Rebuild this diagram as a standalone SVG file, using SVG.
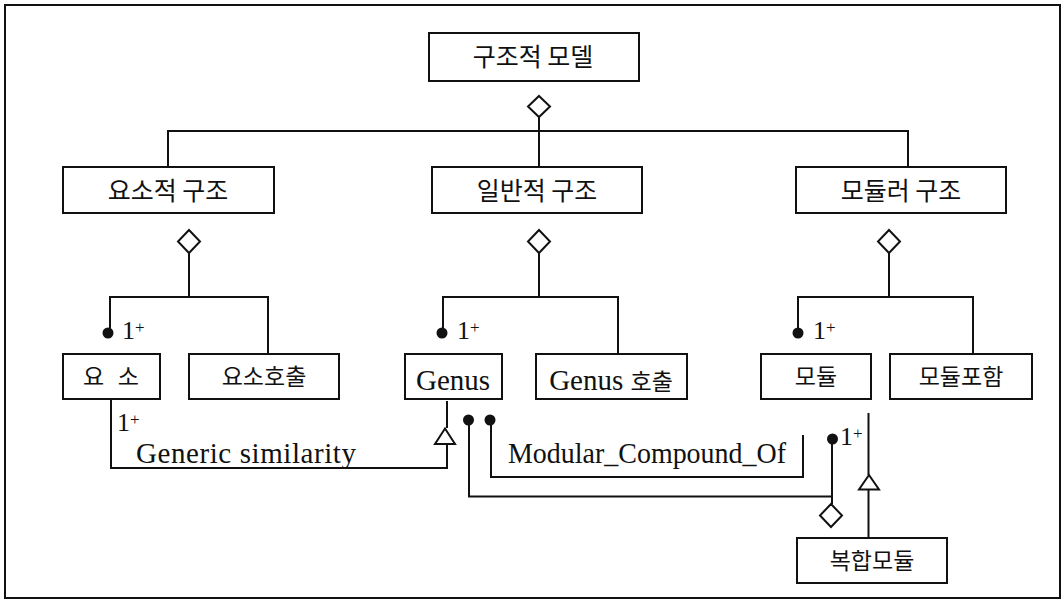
<svg xmlns="http://www.w3.org/2000/svg" width="1062" height="599" viewBox="0 0 1062 599">
<style>
.box{fill:#fff;stroke:#111;stroke-width:2}
.ln{fill:none;stroke:#111;stroke-width:2}
.dia{fill:#fff;stroke:#111;stroke-width:2}
.tri{fill:#fff;stroke:#111;stroke-width:2}
.dot{fill:#111}
.kt{font-family:"Noto Sans CJK KR","Noto Sans",sans-serif;font-size:25px;fill:#111;text-anchor:middle}
.ks{font-family:"Liberation Serif","Noto Sans CJK KR",serif;font-size:23px;fill:#111;text-anchor:middle}
.et{font-family:"Liberation Serif","Noto Sans CJK KR",serif;font-size:29px;fill:#111}
.m{font-family:"Liberation Serif",serif;font-size:26px;fill:#111}
</style>
<rect x="5" y="5" width="1055" height="593" fill="#fff" stroke="#111" stroke-width="2"/>
<g id="connectors">
<polygon class="dia" points="539,96 550,106.5 539,117 528,106.5"/>
<path class="ln" d="M539,117 V167 M168,167 V131 H908 V167"/>
<polygon class="dia" points="189,230 200,241.5 189,253 178,241.5"/>
<polygon class="dia" points="539,230 550,241.5 539,253 528,241.5"/>
<polygon class="dia" points="889,230 900,241.5 889,253 878,241.5"/>
<path class="ln" d="M189,253 V297 M110,333 V297 H268 V354"/>
<path class="ln" d="M539,253 V297 M443,333 V297 H618 V354"/>
<path class="ln" d="M889,253 V297 M798,333 V297 H973 V354"/>
<circle class="dot" cx="108" cy="333" r="5.5"/>
<circle class="dot" cx="442" cy="333" r="5.5"/>
<circle class="dot" cx="798" cy="333" r="5.5"/>
<path class="ln" d="M111,399 V468 H447 V444 M447,428 V401"/>
<polygon class="tri" points="445,428.5 455,444 435,444"/>
<circle class="dot" cx="468.5" cy="420" r="5.5"/>
<circle class="dot" cx="490" cy="420" r="5.5"/>
<path class="ln" d="M491,420 V477 H803 V435"/>
<path class="ln" d="M469,420 V496.5 H832 V504 M832,439 V496.5"/>
<circle class="dot" cx="832.5" cy="439" r="5.5"/>
<polygon class="dia" points="831,504 842,515.5 831,527 820,515.5"/>
<path class="ln" d="M868.5,413 V475 M868.5,489 V538"/>
<polygon class="tri" points="869,475 879,489.5 859,489.5"/>
<text class="m" x="122" y="339">1<tspan font-size="17" dy="-6">+</tspan></text>
<text class="m" x="457" y="339">1<tspan font-size="17" dy="-6">+</tspan></text>
<text class="m" x="813" y="339">1<tspan font-size="17" dy="-6">+</tspan></text>
<text class="m" x="117" y="431">1<tspan font-size="17" dy="-6">+</tspan></text>
<text class="m" x="840" y="445">1<tspan font-size="17" dy="-6">+</tspan></text>
<text class="et" x="136" y="463" textLength="220" lengthAdjust="spacing">Generic similarity</text>
<text class="et" x="508" y="463" textLength="278" lengthAdjust="spacingAndGlyphs">Modular_Compound_Of</text>
</g>
<g id="n-model"><rect class="box" x="429" y="33" width="210" height="48"/><text class="kt" x="533" y="66">구조적 모델</text></g>
<g id="n-elem-struct"><rect class="box" x="63" y="167" width="211" height="46"/><text class="kt" x="168" y="200">요소적 구조</text></g>
<g id="n-gen-struct"><rect class="box" x="432" y="167" width="210" height="46"/><text class="kt" x="537" y="200">일반적 구조</text></g>
<g id="n-mod-struct"><rect class="box" x="796" y="167" width="210" height="46"/><text class="kt" x="901" y="200">모듈러 구조</text></g>
<g id="n-elem"><rect class="box" x="63" y="354" width="97" height="45"/><text class="ks" x="111" y="385" word-spacing="8">요 소</text></g>
<g id="n-elem-call"><rect class="box" x="189" y="354" width="150" height="45"/><text class="ks" x="264" y="385">요소호출</text></g>
<g id="n-genus"><rect class="box" x="405" y="354" width="97" height="45"/><text class="et" x="453" y="389.5" text-anchor="middle">Genus</text></g>
<g id="n-genus-call"><rect class="box" x="536" y="354" width="151" height="45"/><text class="et" x="611" y="389.5" text-anchor="middle">Genus <tspan font-family="Noto Sans CJK KR" font-size="23">호출</tspan></text></g>
<g id="n-module"><rect class="box" x="761" y="354" width="110" height="45"/><text class="ks" x="816" y="385">모듈</text></g>
<g id="n-module-incl"><rect class="box" x="890" y="354" width="142" height="45"/><text class="ks" x="961" y="385">모듈포함</text></g>
<g id="n-compound"><rect class="box" x="797" y="538" width="150" height="45"/><text class="ks" x="872" y="569">복합모듈</text></g>
</svg>
